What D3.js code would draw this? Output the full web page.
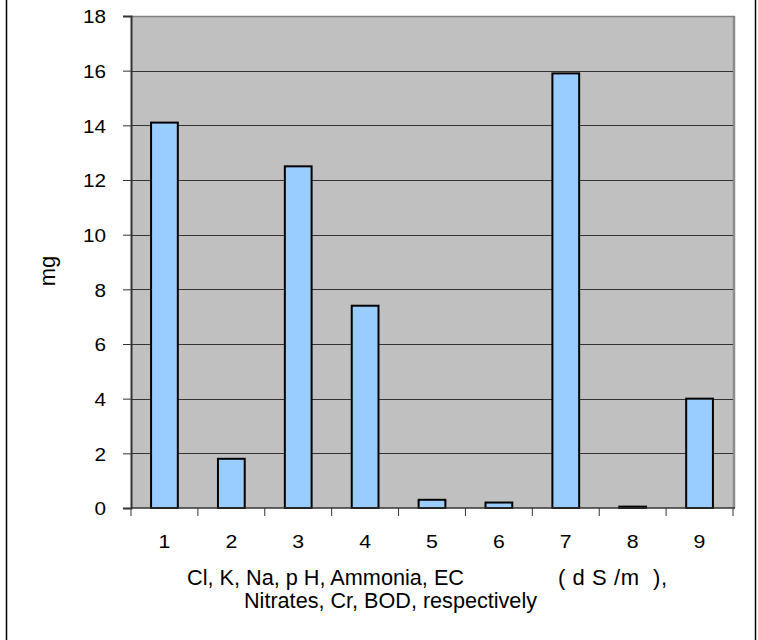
<!DOCTYPE html>
<html>
<head>
<meta charset="utf-8">
<script src="https://cdn.jsdelivr.net/npm/d3@7"></script>
<style>
  html, body { margin: 0; padding: 0; background: #fff; }
  svg { display: block; }
  text { font-family: "Liberation Sans", Arial, sans-serif; fill: #000; }
</style>
</head>
<body>
<svg id="chart" width="758" height="640"></svg>
<script>
// Measured parameters, in order
const categories = ["1", "2", "3", "4", "5", "6", "7", "8", "9"];
const values = [14.1, 1.8, 12.5, 7.4, 0.3, 0.2, 15.9, 0.05, 4.0];
const yTicks = [0, 2, 4, 6, 8, 10, 12, 14, 16, 18];
const yTitle = "mg";
const xTitleLine1a = "Cl, K, Na, p H, Ammonia, EC";
const xTitleLine1b = "( d S /m  ),";
const xTitleLine2 = "Nitrates, Cr, BOD, respectively";

const svg = d3.select("#chart");
const plot = { left: 131, right: 733, top: 16, bottom: 508 };
const tickFont = 18.5;
const titleFont = 22;

// widen tick labels slightly, keeping their anchor
function widen(sel, k) {
  sel.each(function () {
    const w = this.getComputedTextLength();
    d3.select(this).attr("textLength", w * k).attr("lengthAdjust", "spacingAndGlyphs");
  });
}

// outer chart frame
svg.append("rect")
  .attr("x", 6.5).attr("y", -2)
  .attr("width", 749).attr("height", 646)
  .attr("fill", "#fff").attr("stroke", "#000").attr("stroke-width", 1.5);

const x = d3.scaleBand().domain(categories).range([plot.left, plot.right]).paddingInner(0).paddingOuter(0);
const y = d3.scaleLinear().domain([0, 18]).range([plot.bottom, plot.top]);

// plot area background
svg.append("rect")
  .attr("x", plot.left).attr("y", plot.top)
  .attr("width", plot.right - plot.left).attr("height", plot.bottom - plot.top)
  .attr("fill", "#c0c0c0");
// plot area border (right side shows as a thick gray edge)
svg.append("line")
  .attr("x1", plot.right + 1).attr("x2", plot.right + 1)
  .attr("y1", plot.top).attr("y2", plot.bottom)
  .attr("stroke", "#8c8c8c").attr("stroke-width", 2.5);
svg.append("line")
  .attr("x1", plot.left).attr("x2", plot.right + 2)
  .attr("y1", plot.top + 0.5).attr("y2", plot.top + 0.5)
  .attr("stroke", "#808080").attr("stroke-width", 1.5);

// horizontal gridlines
svg.append("g")
  .selectAll("line")
  .data(yTicks.filter(t => t > 0 && t < 18))
  .join("line")
  .attr("x1", plot.left).attr("x2", plot.right)
  .attr("y1", d => Math.round(y(d)) + 0.5).attr("y2", d => Math.round(y(d)) + 0.5)
  .attr("stroke", "#333").attr("stroke-width", 1);

// bars
const barW = x.bandwidth() / 2.5;
svg.append("g")
  .selectAll("rect")
  .data(values)
  .join("rect")
  .attr("x", (d, i) => x(categories[i]) + (x.bandwidth() - barW) / 2)
  .attr("y", d => y(d))
  .attr("width", barW)
  .attr("height", d => plot.bottom - y(d))
  .attr("fill", "#99ccff")
  .attr("stroke", "#000")
  .attr("stroke-width", 2);

// y axis
const yAxis = d3.axisLeft(y).tickValues(yTicks).tickSize(8).tickPadding(17).tickFormat(d3.format("d"));
const gy = svg.append("g").attr("transform", `translate(${plot.left},0)`).call(yAxis);
gy.attr("font-size", tickFont).attr("font-family", "Liberation Sans, Arial, sans-serif");
gy.select(".domain").attr("stroke", "#333").attr("stroke-width", 2);
gy.selectAll(".tick line").attr("stroke", "#333");
gy.selectAll(".tick text").attr("dy", "0.36em").call(widen, 1.12);

// x axis: ticks at category boundaries, labels centered
const gx = svg.append("g").attr("transform", `translate(0,${plot.bottom})`);
gx.append("line")
  .attr("x1", plot.left).attr("x2", plot.right + 2)
  .attr("y1", 0).attr("y2", 0)
  .attr("stroke", "#333").attr("stroke-width", 1.5);
const bounds = categories.map(c => x(c)).concat([plot.right]);
gx.selectAll("line.tk")
  .data(bounds)
  .join("line")
  .attr("class", "tk")
  .attr("x1", d => d).attr("x2", d => d)
  .attr("y1", 0).attr("y2", 8)
  .attr("stroke", "#333").attr("stroke-width", 1);
gx.selectAll("text")
  .data(categories)
  .join("text")
  .attr("x", d => x(d) + x.bandwidth() / 2)
  .attr("y", 39.5)
  .attr("text-anchor", "middle")
  .attr("font-size", tickFont)
  .text(d => d)
  .call(widen, 1.15);

// axis titles
svg.append("text")
  .attr("transform", `translate(54.5,${(plot.top + plot.bottom) / 2 + 9}) rotate(-90)`)
  .attr("text-anchor", "middle")
  .attr("font-size", titleFont)
  .text(yTitle);
svg.append("text").attr("x", 187).attr("y", 584.5).attr("font-size", titleFont)
  .attr("textLength", 277).attr("lengthAdjust", "spacingAndGlyphs").text(xTitleLine1a);
svg.append("text").attr("x", 558).attr("y", 584.5).attr("font-size", titleFont)
  .style("white-space", "pre")
  .attr("textLength", 109).attr("lengthAdjust", "spacing").text(xTitleLine1b);
svg.append("text").attr("x", 244).attr("y", 607.5).attr("font-size", titleFont)
  .attr("textLength", 293).attr("lengthAdjust", "spacingAndGlyphs").text(xTitleLine2);
</script>
</body>
</html>
